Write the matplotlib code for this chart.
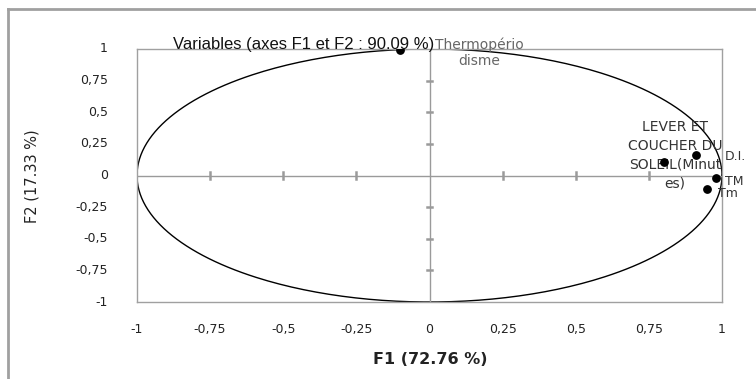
import numpy as np
import matplotlib
matplotlib.use("Agg")
from matplotlib import pyplot as plt
from matplotlib.lines import Line2D

# variables (coordonnees sur F1, F2)
var_names = ["Thermopério\ndisme", "LEVER ET\nCOUCHER DU\nSOLEIL(Minut\nes)", "D.I.", "TM", "Tm"]
f1 = [-0.10, 0.80, 0.91, 0.98, 0.95]
f2 = [0.99, 0.11, 0.16, -0.02, -0.11]
ticks = [-1, -0.75, -0.5, -0.25, 0, 0.25, 0.5, 0.75, 1]
tick_labels = ["-1", "-0,75", "-0,5", "-0,25", "0", "0,25", "0,5", "0,75", "1"]

matplotlib.rcParams["font.family"] = ["DejaVu Sans"]
fig = plt.figure(figsize=(7.56, 3.79), dpi=100)
W, H = 756, 379
ax = fig.add_axes([137 / W, 1 - 302 / H, (722 - 137) / W, (302 - 49) / H])
ax.set_xlim(-1, 1)
ax.set_ylim(-1, 1)

for s in ax.spines.values():
    s.set_color("#a0a0a0")
    s.set_linewidth(1)

# cercle des correlations
t = np.linspace(0, 2 * np.pi, 400)
ax.plot(np.cos(t), np.sin(t), color="black", lw=1.0)

# axes centraux
ax.axhline(0, color="#9a9a9a", lw=1)
ax.axvline(0, color="#9a9a9a", lw=1)
for v in ticks:
    if v in (-1, 0, 1):
        continue
    ax.plot([v, v], [-0.03, 0.03], color="#9a9a9a", lw=1.8)
    ax.plot([-0.01, 0.01], [v, v], color="#9a9a9a", lw=1.8)

ax.scatter(f1, f2, s=28, color="black", zorder=5)

ax.text(f1[0] + 0.27, f2[0] + 0.10, var_names[0], fontsize=10, color="#666666",
        ha="center", va="top", linespacing=1.15)
ax.text(f1[1] + 0.04, f2[1] + 0.33, var_names[1], fontsize=10, color="#333333",
        ha="center", va="top", linespacing=1.45)
ax.text(f1[2] + 0.10, f2[2] - 0.01, var_names[2], fontsize=9, color="#333333",
        ha="left", va="center")
ax.text(f1[3] + 0.03, f2[3] - 0.03, var_names[3], fontsize=9, color="#333333",
        ha="left", va="center")
ax.text(f1[4] + 0.035, f2[4] - 0.03, var_names[4], fontsize=9, color="#333333",
        ha="left", va="center")

ax.set_xticks([])
ax.set_yticks([])
for v, lab in zip(ticks, tick_labels):
    ax.text(v, -1.22, lab, fontsize=9, ha="center", va="center", color="#222222",
            clip_on=False)
    ax.text(-1.10, v, lab, fontsize=9, ha="right", va="center", color="#222222",
            clip_on=False)

fig.text(304 / W, 1 - 44 / H, "Variables (axes F1 et F2 : 90.09 %)", fontsize=12,
         ha="center", va="center", color="#111111", family=["Liberation Sans", "DejaVu Sans"])
fig.text(430 / W, 1 - 360 / H, "F1 (72.76 %)", fontsize=11.5, ha="center", va="center",
         color="#222222", weight="bold")
fig.text(32 / W, 1 - 176 / H, "F2 (17.33 %)", fontsize=10.5, ha="center", va="center",
         rotation=90, color="#222222")

# cadre exterieur
fig.add_artist(Line2D([8 / W, 8 / W], [0, 1 - 9 / H], transform=fig.transFigure,
                      color="#a0a0a0", lw=2))
fig.add_artist(Line2D([8 / W, 1], [1 - 9 / H, 1 - 9 / H], transform=fig.transFigure,
                      color="#a0a0a0", lw=2))

fig.savefig("out.png", dpi=100)
